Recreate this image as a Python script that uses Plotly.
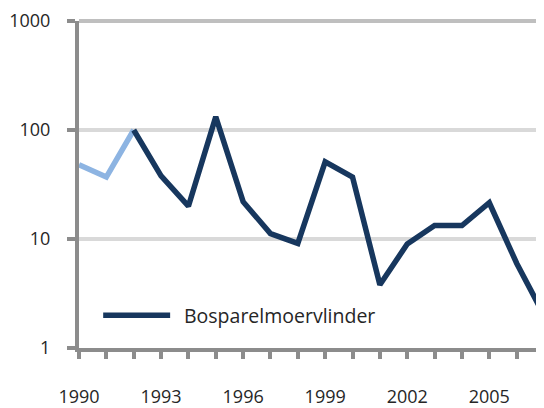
import plotly.graph_objects as go

years = list(range(1990, 2008))
values = [48, 37, 100, 38, 20, 132, 22, 11.2, 9.1, 51, 37, 3.8, 9.0, 13.3, 13.3, 21.5, 6.0, 2.0]
series_name = "Bosparelmoervlinder"
n_early = 3  # 1990-1992 drawn in light blue

tick_years = years
tick_text = [str(y) if (y - 1990) % 3 == 0 else "" for y in years]
y_ticks = [1, 10, 100, 1000]
y_text = ["1", "10", "100", "1000"]

dark = "#17375E"
light = "#8DB4E2"
axis_gray = "#8C8C8C"
tick_font = dict(family="Open Sans", size=18, color="#262626")
legend_font = dict(family="Open Sans", size=19.5, color="#262626")

fig = go.Figure()
fig.add_trace(go.Scatter(x=years[:n_early], y=values[:n_early], mode="lines",
                         line=dict(color=light, width=5.5), showlegend=False))
fig.add_trace(go.Scatter(x=years[n_early - 1:], y=values[n_early - 1:], mode="lines",
                         line=dict(color=dark, width=5.5), name=series_name, showlegend=False))

# page has an 8px body margin; size the figure so it fills the 544x408 window
fig.update_layout(
    width=536, height=400,
    margin=dict(l=71, r=0, t=10, b=59),
    paper_bgcolor="white", plot_bgcolor="white",
    font=tick_font,
    showlegend=False,
)
fig.update_xaxes(
    range=[1990, 2007], tickvals=tick_years, ticktext=tick_text,
    showgrid=False, zeroline=False,
    showline=True, linecolor=axis_gray, linewidth=4,
    ticks="outside", ticklen=7, tickwidth=4, tickcolor=axis_gray,
    ticklabelstandoff=22, tickfont=tick_font, ticklabeloverflow="allow",
)
fig.update_yaxes(
    type="log", range=[0, 3], tickvals=y_ticks, ticktext=y_text,
    showgrid=True, gridcolor="#D9D9D9", gridwidth=4, zeroline=False,
    showline=True, linecolor=axis_gray, linewidth=4,
    ticks="outside", ticklen=8, tickwidth=4, tickcolor=axis_gray,
    ticklabelstandoff=13, tickfont=tick_font, ticklabeloverflow="allow",
)
# top gridline darker
fig.add_shape(type="line", xref="paper", yref="paper", x0=0, x1=1, y0=1, y1=1,
              line=dict(color="#BFBFBF", width=4), layer="below")
# manual legend
fig.add_shape(type="line", xref="paper", yref="paper", x0=0.052, x1=0.196, y0=0.1, y1=0.1,
              line=dict(color=dark, width=5.5))
fig.add_annotation(xref="paper", yref="paper", x=0.222, y=0.1, text=series_name,
                   showarrow=False, xanchor="left", yanchor="middle", font=legend_font)

fig.write_html("out.html")
